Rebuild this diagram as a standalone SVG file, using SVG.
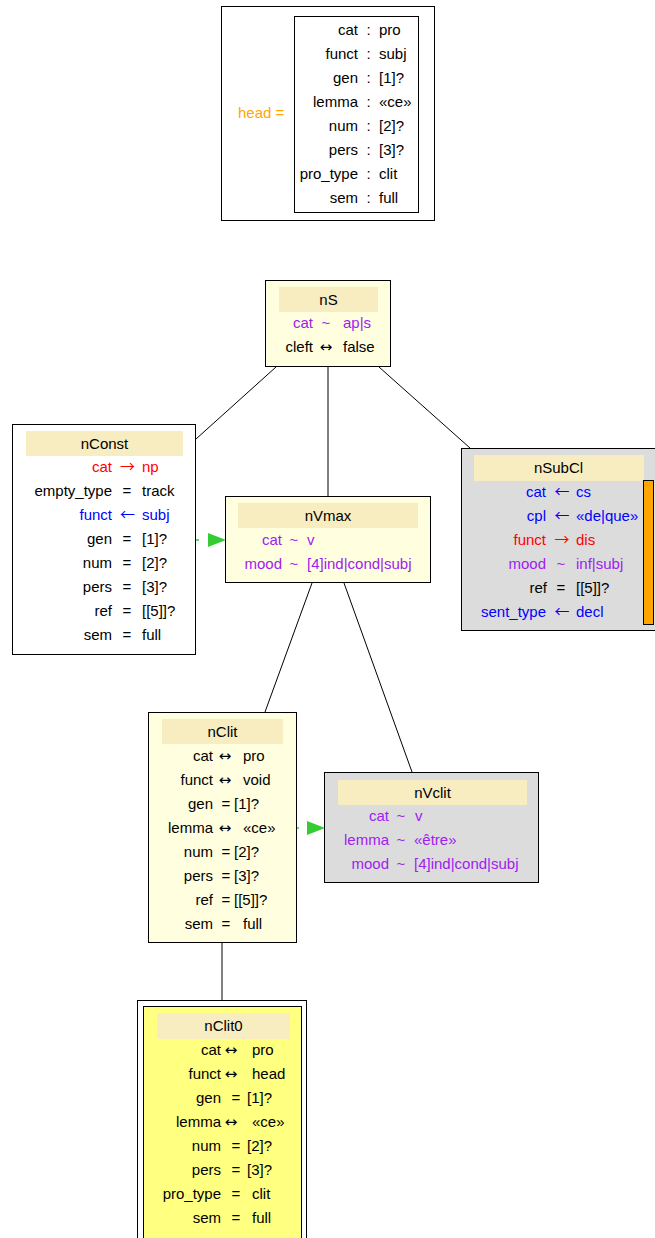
<svg xmlns="http://www.w3.org/2000/svg" width="655" height="1238" viewBox="0 0 655 1238">
<style>
text{font-family:"Liberation Sans",Arial,sans-serif;font-size:15px;fill:#000}
.a{font-family:"Noto Sans CJK SC",sans-serif;font-size:15px}
.d{font-family:"DejaVu Sans",sans-serif;font-size:15px}
.e{text-anchor:end}.m{text-anchor:middle}
.r{fill:#FF0000}.b{fill:#0000FF}.p{fill:#A020F0}.o{fill:#FFA500}
.box{stroke:#000;stroke-width:1}
.ly{fill:#FFFFE0}.gr{fill:#DCDCDC}.wh{fill:#FFFFFF}
.hd{fill:#F7EDC0}
.edge{stroke:#000;stroke-width:1;fill:none}
.ga{fill:#33CC33}.gl{stroke:#33CC33;stroke-width:1.5}
</style>
<rect width="655" height="1238" fill="#FFFFFF"/>
<g id="edges">
<line class="edge" x1="276" y1="367" x2="196" y2="439"/>
<line class="edge" x1="328" y1="367" x2="328" y2="496"/>
<line class="edge" x1="379" y1="367" x2="470" y2="448"/>
<line class="edge" x1="312" y1="583" x2="265" y2="712"/>
<line class="edge" x1="344" y1="583" x2="412" y2="772"/>
<line class="edge" x1="222" y1="943" x2="222" y2="1000"/>
<line class="gl" x1="196" y1="540" x2="199" y2="540"/>
<polygon class="ga" points="208,533 226,540 208,547"/>
<line class="gl" x1="296" y1="828" x2="299" y2="828"/>
<polygon class="ga" points="307,821 325,828 307,835"/>
</g>
<g id="head">
<rect class="box wh" x="221.5" y="6.5" width="213" height="214"/>
<rect class="box wh" x="294.5" y="16.5" width="124" height="196"/>
<text class="o" x="238" y="118">head =</text>
<text class="e" x="358" y="35">cat</text><text class="m" x="368.5" y="35">:</text><text x="379" y="35">pro</text>
<text class="e" x="358" y="59">funct</text><text class="m" x="368.5" y="59">:</text><text x="379" y="59">subj</text>
<text class="e" x="358" y="83">gen</text><text class="m" x="368.5" y="83">:</text><text x="379" y="83">[1]?</text>
<text class="e" x="358" y="107">lemma</text><text class="m" x="368.5" y="107">:</text><text x="379" y="107">«ce»</text>
<text class="e" x="358" y="131">num</text><text class="m" x="368.5" y="131">:</text><text x="379" y="131">[2]?</text>
<text class="e" x="358" y="155">pers</text><text class="m" x="368.5" y="155">:</text><text x="379" y="155">[3]?</text>
<text class="e" x="358" y="179">pro_type</text><text class="m" x="368.5" y="179">:</text><text x="379" y="179">clit</text>
<text class="e" x="358" y="203">sem</text><text class="m" x="368.5" y="203">:</text><text x="379" y="203">full</text>
</g>
<g id="nS">
<rect class="box ly" x="265.5" y="280.5" width="125" height="86"/>
<rect class="hd" x="279" y="287" width="99" height="25"/>
<text class="m" x="328.5" y="305">nS</text>
<text class="e p" x="313" y="328">cat</text><text class="m p" x="326" y="328">~</text><text class="p" x="343" y="328">ap|s</text>
<text class="e" x="313" y="352">cleft</text><text class="m d" x="326" y="352">↔</text><text x="343" y="352">false</text>
</g>
<g id="nConst">
<rect class="box wh" x="12.5" y="424.5" width="183" height="230"/>
<rect class="hd" x="26" y="431" width="157" height="25"/>
<text class="m" x="104.5" y="449">nConst</text>
<text class="e r" x="112" y="472">cat</text><text class="m r a" x="127.5" y="472">→</text><text class="r" x="142" y="472">np</text>
<text class="e" x="112" y="496">empty_type</text><text class="m" x="127" y="496">=</text><text x="142" y="496">track</text>
<text class="e b" x="112" y="520">funct</text><text class="m b a" x="127.5" y="520">←</text><text class="b" x="142" y="520">subj</text>
<text class="e" x="112" y="544">gen</text><text class="m" x="127" y="544">=</text><text x="142" y="544">[1]?</text>
<text class="e" x="112" y="568">num</text><text class="m" x="127" y="568">=</text><text x="142" y="568">[2]?</text>
<text class="e" x="112" y="592">pers</text><text class="m" x="127" y="592">=</text><text x="142" y="592">[3]?</text>
<text class="e" x="112" y="616">ref</text><text class="m" x="127" y="616">=</text><text x="142" y="616">[[5]]?</text>
<text class="e" x="112" y="640">sem</text><text class="m" x="127" y="640">=</text><text x="142" y="640">full</text>
</g>
<g id="nSubCl">
<rect class="box gr" x="461.5" y="448.5" width="200" height="182"/>
<rect class="hd" x="474" y="455" width="170" height="26"/>
<text class="m" x="558.5" y="473">nSubCl</text>
<rect class="box" fill="#FFA500" x="643.5" y="480.5" width="10" height="144"/>
<text class="e b" x="546" y="497">cat</text><text class="m b a" x="562" y="497">←</text><text class="b" x="576" y="497">cs</text>
<text class="e b" x="546" y="521">cpl</text><text class="m b a" x="562" y="521">←</text><text class="b" x="576" y="521">«de|que»</text>
<text class="e r" x="546" y="545">funct</text><text class="m r a" x="562" y="545">→</text><text class="r" x="576" y="545">dis</text>
<text class="e p" x="546" y="569">mood</text><text class="m p" x="561" y="569">~</text><text class="p" x="576" y="569">inf|subj</text>
<text class="e" x="547" y="593">ref</text><text class="m" x="561" y="593">=</text><text x="576" y="593">[[5]]?</text>
<text class="e b" x="546" y="617">sent_type</text><text class="m b a" x="562" y="617">←</text><text class="b" x="576" y="617">decl</text>
</g>
<g id="nVmax">
<rect class="box ly" x="225.5" y="496.5" width="205" height="86"/>
<rect class="hd" x="238" y="503" width="180" height="25"/>
<text class="m" x="328" y="521">nVmax</text>
<text class="e p" x="282" y="545">cat</text><text class="m p" x="294" y="545">~</text><text class="p" x="307" y="545">v</text>
<text class="e p" x="282" y="569">mood</text><text class="m p" x="294" y="569">~</text><text class="p" x="307" y="569">[4]ind|cond|subj</text>
</g>
<g id="nClit">
<rect class="box ly" x="148.5" y="712.5" width="148" height="230"/>
<rect class="hd" x="162" y="719" width="121" height="25"/>
<text class="m" x="222.5" y="737">nClit</text>
<text class="e" x="213" y="761">cat</text><text class="m d" x="225" y="761">↔</text><text x="243" y="761">pro</text>
<text class="e" x="213" y="785">funct</text><text class="m d" x="225" y="785">↔</text><text x="243" y="785">void</text>
<text class="e" x="213" y="809">gen</text><text class="m" x="226" y="809">=</text><text x="234" y="809">[1]?</text>
<text class="e" x="213" y="833">lemma</text><text class="m d" x="225" y="833">↔</text><text x="243" y="833">«ce»</text>
<text class="e" x="213" y="857">num</text><text class="m" x="226" y="857">=</text><text x="234" y="857">[2]?</text>
<text class="e" x="213" y="881">pers</text><text class="m" x="226" y="881">=</text><text x="234" y="881">[3]?</text>
<text class="e" x="213" y="905">ref</text><text class="m" x="226" y="905">=</text><text x="234" y="905">[[5]]?</text>
<text class="e" x="213" y="929">sem</text><text class="m" x="226" y="929">=</text><text x="243" y="929">full</text>
</g>
<g id="nVclit">
<rect class="box gr" x="324.5" y="772.5" width="214" height="110"/>
<rect class="hd" x="338" y="780" width="189" height="25"/>
<text class="m" x="432.5" y="798">nVclit</text>
<text class="e p" x="389" y="821">cat</text><text class="m p" x="401" y="821">~</text><text class="p" x="415" y="821">v</text>
<text class="e p" x="389" y="845">lemma</text><text class="m p" x="401" y="845">~</text><text class="p" x="414" y="845">«être»</text>
<text class="e p" x="389" y="869">mood</text><text class="m p" x="401" y="869">~</text><text class="p" x="414" y="869">[4]ind|cond|subj</text>
</g>
<g id="nClit0">
<rect class="box wh" x="137.5" y="1000.5" width="169" height="260"/>
<rect class="box" fill="#FFFF80" x="143.5" y="1006.5" width="158" height="250"/>
<rect class="hd" x="157" y="1013" width="133" height="26"/>
<text class="m" x="223.5" y="1031">nClit0</text>
<text class="e" x="221" y="1055">cat</text><text class="m d" x="231" y="1055">↔</text><text x="252" y="1055">pro</text>
<text class="e" x="221" y="1079">funct</text><text class="m d" x="231" y="1079">↔</text><text x="252" y="1079">head</text>
<text class="e" x="221" y="1103">gen</text><text class="m" x="236" y="1103">=</text><text x="247" y="1103">[1]?</text>
<text class="e" x="221" y="1127">lemma</text><text class="m d" x="231" y="1127">↔</text><text x="252" y="1127">«ce»</text>
<text class="e" x="221" y="1151">num</text><text class="m" x="236" y="1151">=</text><text x="247" y="1151">[2]?</text>
<text class="e" x="221" y="1175">pers</text><text class="m" x="236" y="1175">=</text><text x="247" y="1175">[3]?</text>
<text class="e" x="221" y="1199">pro_type</text><text class="m" x="236" y="1199">=</text><text x="252" y="1199">clit</text>
<text class="e" x="221" y="1223">sem</text><text class="m" x="236" y="1223">=</text><text x="252" y="1223">full</text>
</g>
</svg>
